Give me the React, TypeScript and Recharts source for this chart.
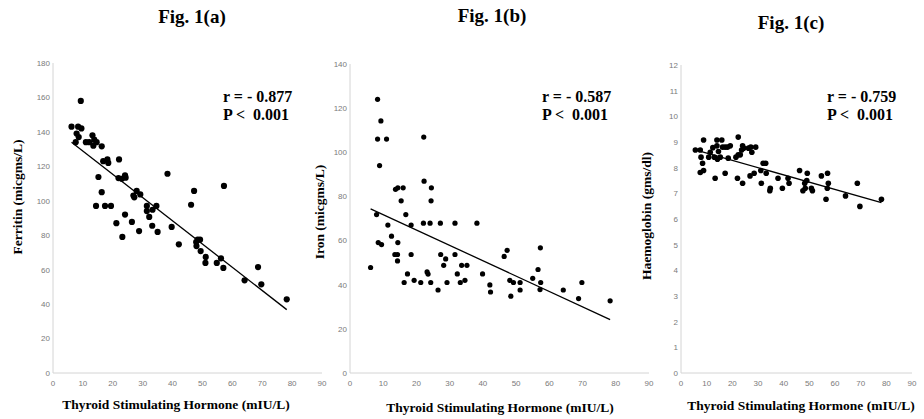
import React from 'react';
import { ScatterChart, Scatter, XAxis, YAxis, ReferenceLine } from 'recharts';

const xTicks = [0, 10, 20, 30, 40, 50, 60, 70, 80, 90];
const ferritinTicks = [0, 20, 40, 60, 80, 100, 120, 140, 160, 180];
const ironTicks = [0, 20, 40, 60, 80, 100, 120, 140];
const hbTicks = [0, 1, 2, 3, 4, 5, 6, 7, 8, 9, 10, 11, 12];

const tshA = [6.2, 9.3, 8.4, 9.5, 7.9, 8.6, 7.6, 11, 12.1, 13.2, 13.8, 14.6, 13.5, 16.3, 16.8, 18.2, 18.5, 22.1, 15.2, 21.9, 23, 24.1, 24.3, 16.3, 14.4, 17.4, 19.4, 21.2, 23.2, 24.1, 26.4, 27.2, 26.9, 28, 29.2, 28.8, 31.4, 31.4, 32.2, 33.3, 34.6, 33.2, 35, 38.3, 39.7, 42.1, 46.2, 47.2, 47.9, 48.4, 49.2, 48, 49.4, 51.1, 51, 54.8, 56.2, 57, 57.2, 64.1, 68.6, 69.7, 78.2];
const ferritin = [143, 158, 143, 142, 139, 137, 134, 134, 134, 138, 135.5, 134, 132, 131.6, 123, 124, 122, 124, 113.8, 113.2, 112.8, 114.8, 113.4, 105, 97, 97, 97, 87, 79, 92, 87.7, 102, 103, 105.7, 103.7, 82.4, 97, 94, 90.6, 94.8, 97, 85.5, 81.9, 115.7, 84.8, 74.7, 97.7, 105.7, 76, 77.4, 77.4, 73.7, 70.8, 67.4, 63.9, 63.9, 66.6, 61, 108.6, 53.8, 61.5, 51.5, 42.8];
const trendA = [{ x: 6.2, y: 134 }, { x: 78.2, y: 36.8 }];

const tshB = [6.2, 8.3, 8.3, 9.3, 11, 8.9, 8, 8.5, 9.5, 11.4, 12.5, 13.5, 14.3, 13.7, 14.4, 16, 15.4, 16.8, 14.4, 14.3, 18.4, 18.4, 17.3, 16.3, 19.3, 21.3, 22.2, 22.3, 22.1, 24.1, 24.4, 24.5, 23.2, 23.5, 24.3, 26.5, 27.2, 27.3, 28.2, 28.8, 29.2, 31.6, 31.6, 32.3, 33.2, 33.6, 34.6, 35.2, 38.2, 39.9, 42.1, 42.3, 46.4, 47.3, 48.1, 48.4, 49.2, 51.2, 51.2, 55, 56.6, 57.3, 57.4, 57.2, 64.2, 68.8, 69.8, 78.3];
const iron = [47.8, 124, 106, 114.2, 106, 94, 71.8, 59.1, 58.2, 67, 62, 53.7, 53.7, 83.2, 83.9, 83.9, 78, 71.8, 59.1, 50.8, 67, 53.7, 44.9, 41, 42, 41, 106.9, 86.9, 67.9, 67.9, 78, 83.9, 45.8, 44.8, 41, 37.6, 67.9, 53.7, 48.8, 51.7, 41, 67.9, 53.7, 44.9, 41, 48.8, 42, 48.8, 67.9, 44.9, 39.9, 36.7, 52.8, 55.6, 42, 34.8, 41, 41, 37.6, 42.9, 46.9, 56.7, 41, 37.8, 37.6, 33.7, 41, 32.7];
const trendB = [{ x: 6.2, y: 74.4 }, { x: 78.3, y: 24.2 }];

const tshC = [5.6, 7.5, 8.8, 7.8, 8.4, 7.5, 8.8, 10.8, 11.4, 12.4, 13, 13.3, 14, 14, 14.6, 14.2, 15.3, 15.9, 16.2, 17.2, 18.1, 19.2, 17.2, 18.4, 22.3, 21.4, 22.3, 23.1, 23.6, 24, 24.4, 22, 24, 26.3, 27.2, 27.6, 29.1, 26.9, 28.5, 31.1, 32, 33, 33.2, 31.3, 34.6, 34.8, 37.8, 39.5, 41.7, 42.1, 46.2, 47.5, 48.2, 49, 49.2, 48.4, 50.8, 51.2, 54.7, 57.1, 57.4, 57, 56.5, 64.1, 68.7, 69.7, 78.1];
const haemoglobin = [8.69, 8.69, 9.08, 8.41, 8.17, 7.81, 7.89, 8.41, 8.6, 8.78, 8.41, 7.59, 9.08, 8.85, 8.63, 8.33, 8.41, 9.08, 8.8, 8.8, 8.8, 8.85, 7.78, 8.37, 9.19, 8.41, 8.5, 8.5, 8.69, 8.85, 8.76, 7.59, 7.39, 8.76, 8.8, 8.6, 8.8, 7.68, 7.78, 7.89, 8.17, 8.17, 7.78, 7.39, 7.1, 7.2, 7.59, 7.2, 7.59, 7.39, 7.89, 7.1, 7.39, 7.5, 7.78, 7.2, 7.2, 7.1, 7.68, 7.78, 7.39, 7.2, 6.77, 6.9, 7.39, 6.49, 6.77];
const trendC = [{ x: 5.6, y: 8.69 }, { x: 78.1, y: 6.64 }];

const toPoints = (xs: number[], ys: number[]) => xs.map((x, i) => ({ x, y: ys[i] }));

const serif = '"Liberation Serif", "Times New Roman", serif';
const sans = '"Liberation Sans", Arial, sans-serif';
const axisColor = '#d4d4d4';
const tickStyle = { fontSize: 8, fill: '#7a7a7a', fontFamily: sans };

type PanelProps = {
  left: number;
  width: number;
  margin: { top: number; right: number; bottom: number; left: number };
  data: { x: number; y: number }[];
  yTicks: number[];
  yMax: number;
  trend: { x: number; y: number }[];
  r: number;
};

function Panel({ left, width, margin, data, yTicks, yMax, trend, r }: PanelProps) {
  return (
    <div style={{ position: 'absolute', left, top: 0 }}>
      <ScatterChart width={width} height={419} margin={margin}>
        <XAxis
          type="number"
          dataKey="x"
          domain={[0, 90]}
          ticks={xTicks}
          interval={0}
          height={20}
          tickLine={false}
          tickSize={3}
          tickMargin={4}
          axisLine={{ stroke: axisColor, strokeWidth: 1 }}
          tick={tickStyle}
        />
        <YAxis
          type="number"
          dataKey="y"
          domain={[0, yMax]}
          ticks={yTicks}
          interval={0}
          width={30}
          tickLine={false}
          tickSize={3}
          tickMargin={0}
          axisLine={{ stroke: axisColor, strokeWidth: 1 }}
          tick={tickStyle}
        />
        <Scatter
          data={data}
          isAnimationActive={false}
          shape={(p: any) => <circle cx={p.cx} cy={p.cy} r={r} fill="#000" />}
        />
        <ReferenceLine segment={trend} stroke="#000" strokeWidth={1.3} ifOverflow="visible" />
      </ScatterChart>
    </div>
  );
}

const textBase: React.CSSProperties = {
  position: 'absolute',
  fontFamily: serif,
  fontWeight: 'bold',
  color: '#000',
  whiteSpace: 'pre',
  lineHeight: 1,
};

function Centered({ x, y, size, text, rotate }: { x: number; y: number; size: number; text: string; rotate?: boolean }) {
  return (
    <div
      style={{
        ...textBase,
        left: x,
        top: y,
        fontSize: size,
        transform: `translate(-50%, -50%)${rotate ? ' rotate(-90deg)' : ''}`,
      }}
    >
      {text}
    </div>
  );
}

function Stat({ x, r }: { x: number; r: string }) {
  return (
    <>
      <div style={{ ...textBase, left: x, top: 97, fontSize: 16, transform: 'translateY(-50%)' }}>{r}</div>
      <div style={{ ...textBase, left: x, top: 115, fontSize: 16, transform: 'translateY(-50%)' }}>{'P <  0.001'}</div>
    </>
  );
}

export default function App() {
  return (
    <div style={{ position: 'absolute', left: 0, top: 0, width: 924, height: 419, background: '#fff', overflow: 'hidden' }}>
      <Panel
        left={0}
        width={332}
        margin={{ top: 63, right: 10, bottom: 26, left: 23 }}
        data={toPoints(tshA, ferritin)}
        yTicks={ferritinTicks}
        yMax={180}
        trend={trendA}
        r={3.1}
      />
      <Panel
        left={310}
        width={350}
        margin={{ top: 64, right: 11, bottom: 26, left: 10 }}
        data={toPoints(tshB, iron)}
        yTicks={ironTicks}
        yMax={140}
        trend={trendB}
        r={2.6}
      />
      <Panel
        left={640}
        width={284}
        margin={{ top: 65, right: 12, bottom: 26, left: 11 }}
        data={toPoints(tshC, haemoglobin)}
        yTicks={hbTicks}
        yMax={12}
        trend={trendC}
        r={2.8}
      />

      <Centered x={192} y={16} size={19} text="Fig. 1(a)" />
      <Centered x={492} y={15} size={19} text="Fig. 1(b)" />
      <Centered x={791} y={22} size={19} text="Fig. 1(c)" />

      <Centered x={176} y={405} size={13.5} text="Thyroid Stimulating Hormone (mIU/L)" />
      <Centered x={500} y={408} size={13.5} text="Thyroid Stimulating Hormone (mIU/L)" />
      <Centered x={801} y={406} size={13.5} text="Thyroid Stimulating Hormone (mIU/L)" />

      <Centered x={18} y={197} size={13.5} text="Ferritin (micgms/L)" rotate />
      <Centered x={320} y={212} size={13.5} text="Iron (micgms/L)" rotate />
      <Centered x={647} y={216} size={13.5} text="Haemoglobin (gms/dl)" rotate />

      <Stat x={223} r="r = - 0.877" />
      <Stat x={542} r="r = - 0.587" />
      <Stat x={827} r="r = - 0.759" />
    </div>
  );
}
